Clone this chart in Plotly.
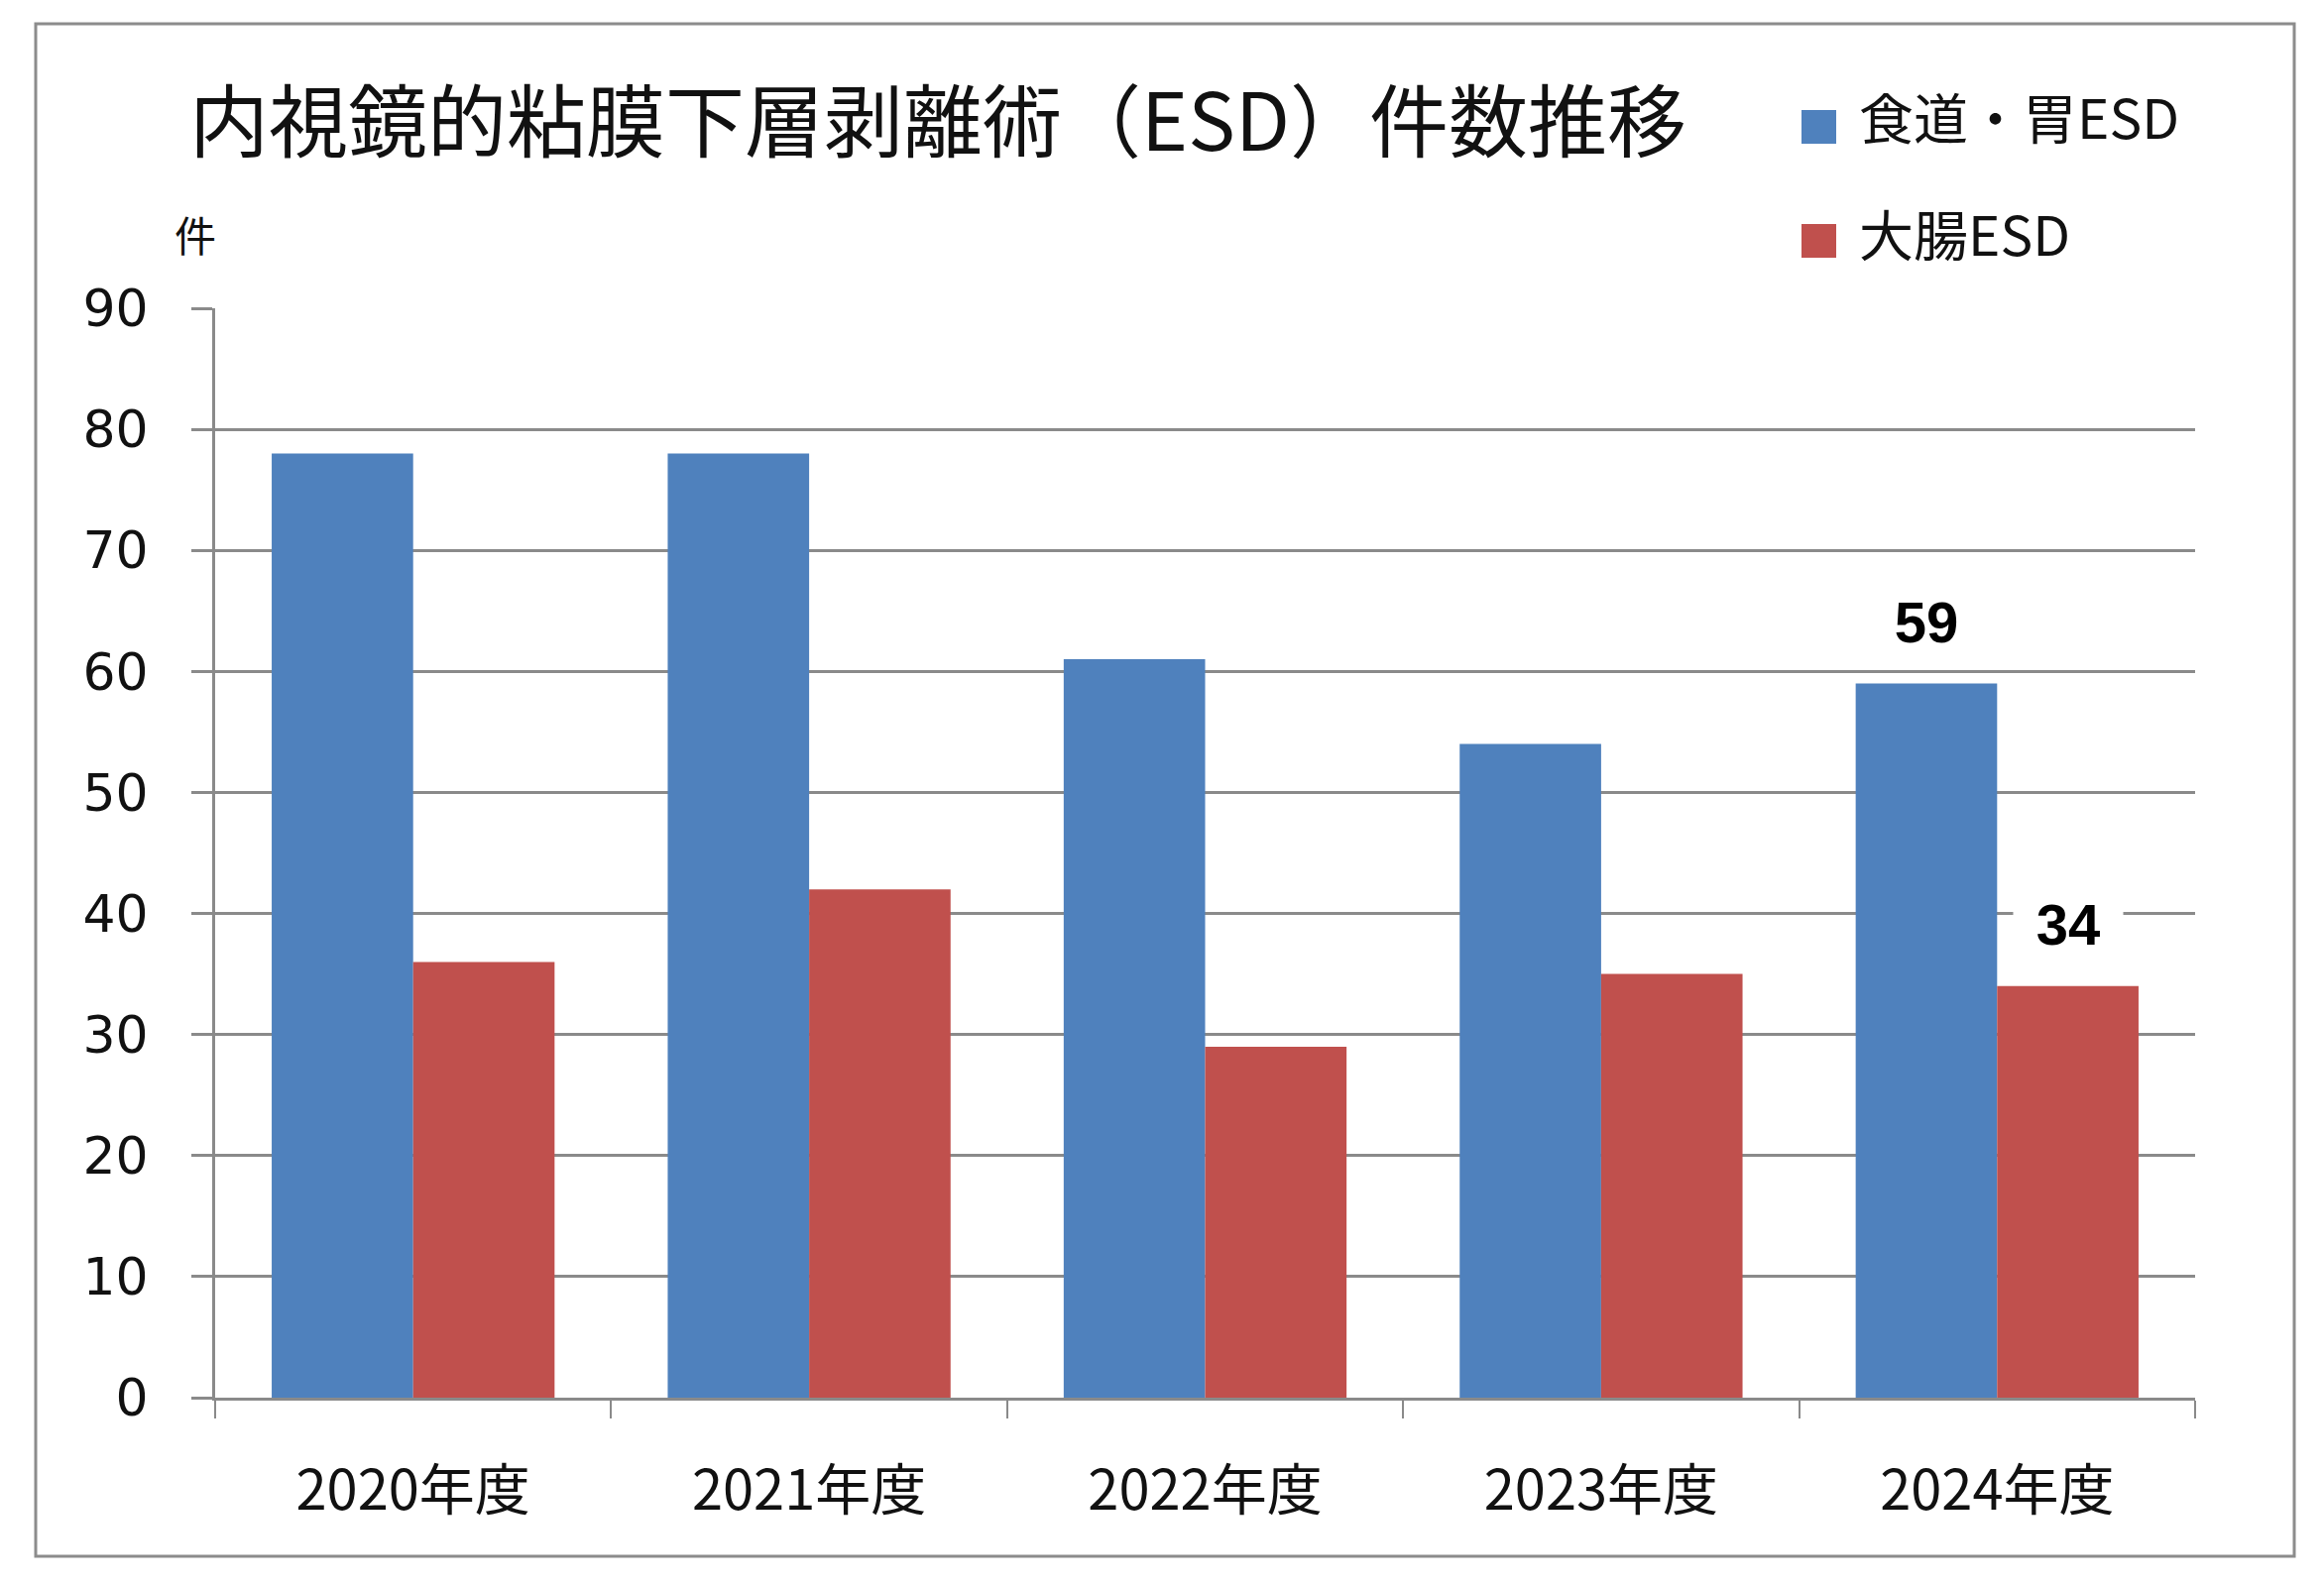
import plotly.graph_objects as go

# ---- data ----
categories = ["2020年度", "2021年度", "2022年度", "2023年度", "2024年度"]
series_names = ["食道・胃ESD", "大腸ESD"]
upper_gi = [78, 78, 61, 54, 59]
colorectal = [36, 42, 29, 35, 34]
y_ticks = [0, 10, 20, 30, 40, 50, 60, 70, 80, 90]
title_text = "内視鏡的粘膜下層剥離術（ESD）件数推移"
y_unit = "件"

# ---- layout geometry (pixels) ----
FIG_W, FIG_H = 2344, 1600
L, R, T, B = 217, 2214, 311, 1410
W, H = R - L, B - T
GAP = 0.2857

BLUE = "#4F81BD"
RED = "#C0504D"
GRID = "#8a8a8a"
CJK = "Noto Sans CJK JP"


def px_x(px):
    return (px - L) / W


def px_y(py):
    return (B - py) / H


fig = go.Figure()
fig.add_trace(go.Bar(x=categories, y=upper_gi, name=series_names[0],
                     marker=dict(color=BLUE, line=dict(width=0)), showlegend=False))
fig.add_trace(go.Bar(x=categories, y=colorectal, name=series_names[1],
                     marker=dict(color=RED, line=dict(width=0)), showlegend=False))

bar_w = W / len(categories) * (1 - GAP) / 2

annotations = []
# value labels for the last year
for vals, sign in ((upper_gi, -1), (colorectal, 1)):
    annotations.append(dict(
        x=categories[-1], y=vals[-1], xref="x", yref="y",
        text=str(vals[-1]), showarrow=False,
        xshift=sign * bar_w / 2, yshift=62,
        xanchor="center", yanchor="middle",
        bgcolor="white", width=108,
        font=dict(family="Liberation Sans", size=58, color="black", weight="bold"),
    ))

# unit label
annotations.append(dict(
    x=px_x(197), y=px_y(236), xref="paper", yref="paper",
    text=y_unit, showarrow=False, xanchor="center", yanchor="middle",
    font=dict(family=CJK, size=42, color="#111111"),
))

# custom legend (large square keys)
shapes = []
legend_rows = [(series_names[0], BLUE, 116, 128), (series_names[1], RED, 234, 243)]
for name, col, ty, sy in legend_rows:
    shapes.append(dict(type="rect", xref="paper", yref="paper",
                       x0=px_x(1817), x1=px_x(1852), y0=px_y(sy + 17), y1=px_y(sy - 17),
                       fillcolor=col, line=dict(width=0)))
    annotations.append(dict(
        x=px_x(1873), y=px_y(ty), xref="paper", yref="paper",
        text=name, showarrow=False, xanchor="left", yanchor="middle",
        font=dict(family=CJK, size=55, color="#111111"),
    ))

# outer frame
shapes.append(dict(type="rect", xref="paper", yref="paper",
                   x0=px_x(36), x1=px_x(2314), y0=px_y(1570), y1=px_y(24),
                   line=dict(color="#8c8c8c", width=3), fillcolor="rgba(0,0,0,0)",
                   layer="below"))

fig.update_layout(
    width=FIG_W, height=FIG_H,
    margin=dict(l=L, r=FIG_W - R, t=T, b=FIG_H - B, pad=0, autoexpand=False),
    paper_bgcolor="white", plot_bgcolor="white",
    barmode="group", bargap=GAP, bargroupgap=0,
    title=dict(text=title_text, x=946 / FIG_W, xref="container", xanchor="center",
               y=1 - 124 / FIG_H, yref="container", yanchor="middle",
               font=dict(family=CJK, size=80, color="#111111")),
    xaxis=dict(
        type="category", showgrid=False, zeroline=False,
        showline=True, linecolor=GRID, linewidth=3,
        ticks="outside", tickson="boundaries", ticklen=18, tickwidth=2, tickcolor=GRID,
        ticklabelstandoff=43,
        tickfont=dict(family=CJK, size=56, color="#111111"),
    ),
    yaxis=dict(
        range=[0, 90], tickvals=y_ticks, showgrid=True, gridcolor=GRID, gridwidth=3,
        zeroline=False, showline=True, linecolor=GRID, linewidth=3,
        ticks="outside", ticklen=21, tickwidth=3, tickcolor=GRID,
        ticklabelstandoff=33,
        tickfont=dict(family="DejaVu Sans", size=52, color="#111111"),
    ),
    annotations=annotations,
    shapes=shapes,
    showlegend=False,
)

fig.write_html("out.html", config={"displayModeBar": False},
               post_script="document.body.style.margin='0';document.body.style.overflow='hidden';")
